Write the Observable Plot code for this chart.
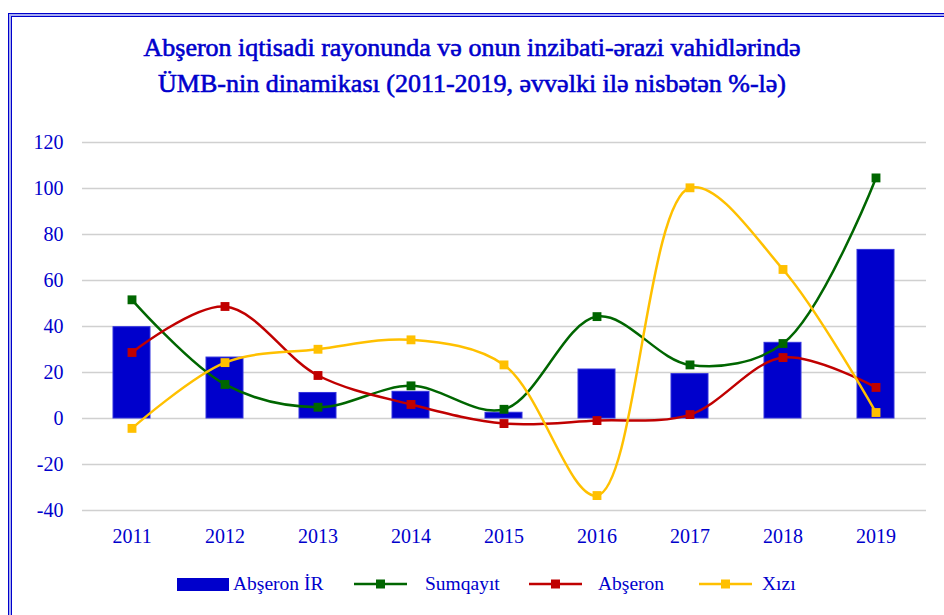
<!DOCTYPE html>
<html>
<head>
<meta charset="utf-8">
<script src="https://cdn.jsdelivr.net/npm/d3@7"></script>
<script src="https://cdn.jsdelivr.net/npm/@observablehq/plot@0.6"></script>
<style>
  html, body { margin: 0; padding: 0; background: #fff; }
  body { width: 944px; height: 615px; position: relative; overflow: hidden; font-family: "Liberation Serif", serif; color: #0000CC; }
  #frame { position: absolute; left: 8px; top: 13px; width: 1000px; height: 700px; border: 1px solid #0000CC; box-shadow: inset 0 0 0 2px #A8AEF0, inset 0 0 0 3px #0000CC; }
  #title { position: absolute; left: 0; top: 30px; width: 944px; text-align: center; font-family: "Liberation Serif", serif; font-weight: normal; -webkit-text-stroke: 0.6px #0000CC; font-size: 26px; line-height: 36px; color: #0000CC; }
  #chart { position: absolute; left: 0; top: 100px; }
  #legend { position: absolute; top: 570px; left: 0; width: 944px; height: 28px; font-size: 19.5px; color: #0000CC; }
  #legend .item { position: absolute; top: 0; height: 28px; display: flex; align-items: center; }
  #legend svg { display: block; }
</style>
</head>
<body>
<div id="frame"></div>
<div id="title">Abşeron iqtisadi rayonunda və onun inzibati-ərazi vahidlərində<br>ÜMB-nin dinamikası (2011-2019, əvvəlki ilə nisbətən %-lə)</div>
<div id="chart"></div>
<div id="legend"></div>
<script>
const years = ["2011","2012","2013","2014","2015","2016","2017","2018","2019"];
const abseronIR = [39.7, 26.5, 11.1, 11.6, 2.5, 21.3, 19.3, 32.9, 73.3];
const sumqayit  = [51.6, 14.8, 4.9, 14.2, 4.0, 44.3, 23.3, 32.6, 104.6];
const abseron   = [28.7, 48.7, 18.7, 6.1, -2.2, -0.9, 1.7, 26.5, 13.5];
const xizi      = [-4.3, 24.3, 30.1, 34.2, 23.3, -33.5, 100.3, 64.8, 2.6];
const yTicks = [-40, -20, 0, 20, 40, 60, 80, 100, 120];

const seriesNames = ["Sumqayıt", "Abşeron", "Xızı"];
const seriesColors = ["#006600", "#C00000", "#FFC000"];
const barName = "Abşeron İR";
const barColor = "#0000CC";

const barData = years.map((y, i) => ({year: y, value: abseronIR[i]}));
const lineData = [];
[sumqayit, abseron, xizi].forEach((arr, s) => {
  years.forEach((y, i) => lineData.push({year: y, value: arr[i], series: seriesNames[s]}));
});

const chart = Plot.plot({
  width: 944,
  height: 460,
  marginTop: 42,
  marginBottom: 50,
  marginLeft: 82,
  marginRight: 18,
  style: {fontFamily: "Liberation Serif, serif", fontSize: "20px", color: "#0000CC", background: "transparent"},
  x: {type: "band", domain: years, paddingInner: 0.6, paddingOuter: 0.3, label: null, tickSize: 0, tickPadding: 18},
  y: {domain: [-40, 120], ticks: yTicks, tickFormat: d => String(d), label: null, tickSize: 0, tickPadding: 19},
  color: {domain: seriesNames, range: seriesColors},
  marks: [
    Plot.ruleY(yTicks, {stroke: "#D0D0D0", strokeWidth: 1.5}),
    Plot.barY(barData, {x: "year", y: "value", fill: barColor, stroke: "#3333DD", strokeWidth: 1}),
    Plot.line(lineData, {x: "year", y: "value", z: "series", stroke: "series", strokeWidth: 2.5, curve: "catmull-rom"}),
    Plot.dot(lineData, {x: "year", y: "value", fill: "series", symbol: "square", r: 5, stroke: "none"})
  ]
});
document.getElementById("chart").appendChild(chart);

// Legend
const legend = document.getElementById("legend");
const legendLefts = [177, 354, 529, 699];
function addItem(name, swatchSvg, left, gap) {
  const item = document.createElement("div");
  item.className = "item";
  item.style.left = left + "px";
  item.innerHTML = swatchSvg + `<span style="margin-left:${gap}px">${name}</span>`;
  legend.appendChild(item);
}
addItem(barName, `<svg width="52" height="13"><rect x="0" y="0" width="52" height="13" fill="${barColor}"/></svg>`, legendLefts[0], 4);
seriesNames.forEach((n, i) => {
  addItem(n, `<svg width="53" height="12"><line x1="0" x2="53" y1="6" y2="6" stroke="${seriesColors[i]}" stroke-width="2.5"/><rect x="22" y="1.5" width="9" height="9" fill="${seriesColors[i]}"/></svg>`, legendLefts[i + 1], [18, 16, 10][i]);
});
</script>
</body>
</html>
